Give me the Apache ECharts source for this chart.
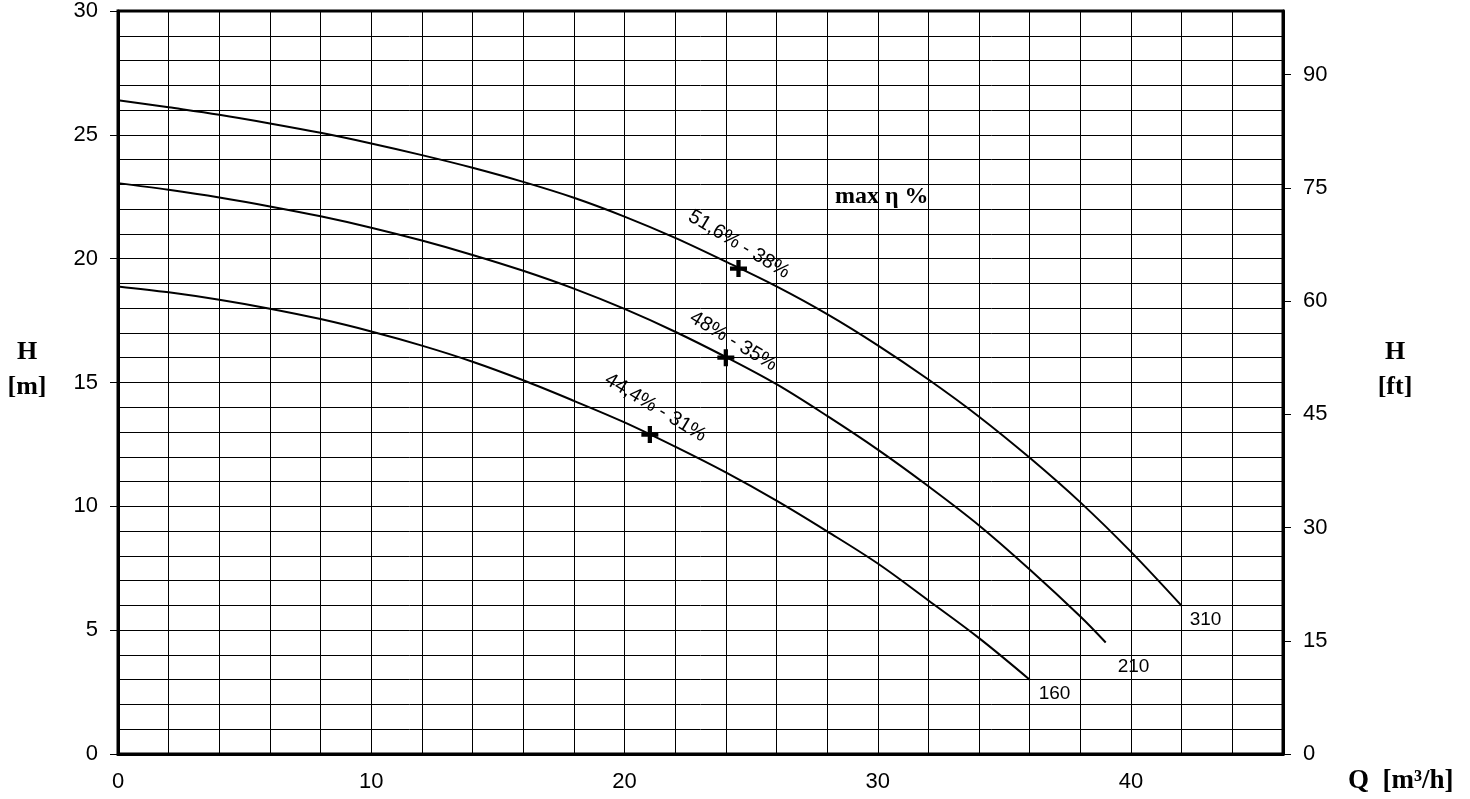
<!doctype html>
<html lang="en">
  <head>
    <meta charset="UTF-8" />
    <title>Pump curves</title>
    <script src="https://cdn.jsdelivr.net/npm/echarts@6/dist/echarts.min.js"></script>
    <style>
      html, body { margin: 0; padding: 0; background: #fff; }
      #chart { width: 1470px; height: 799px; }
    </style>
  </head>
  <body>
    <div id="chart"></div>
    <script>
      // Curve data, Q [m3/h] -> H [m]
      var curveNames = ['310', '210', '160'];
      var q310 = [0, 2, 4, 6, 8, 10, 12, 14, 16, 18, 20, 22, 24, 26, 28, 30, 32, 34, 36, 38, 40, 42];
      var h310 = [26.4, 26.11, 25.81, 25.46, 25.08, 24.65, 24.18, 23.67, 23.1, 22.46, 21.7, 20.84, 19.88, 18.88, 17.76, 16.5, 15.12, 13.62, 11.96, 10.16, 8.16, 5.98];
      var q210 = [0, 2, 4, 6, 8, 10, 12, 14, 16, 18, 20, 22, 24, 26, 28, 30, 32, 34, 36, 38, 39];
      var h210 = [23.05, 22.78, 22.47, 22.11, 21.71, 21.25, 20.73, 20.15, 19.51, 18.79, 17.97, 17.05, 16.03, 14.93, 13.65, 12.29, 10.81, 9.23, 7.45, 5.55, 4.5];
      var q160 = [0, 2, 4, 6, 8, 10, 12, 14, 16, 18, 20, 22, 24, 26, 28, 30, 32, 34, 36];
      var h160 = [18.88, 18.64, 18.34, 17.98, 17.56, 17.06, 16.49, 15.84, 15.09, 14.26, 13.39, 12.41, 11.37, 10.23, 8.99, 7.69, 6.2, 4.68, 3.0];

      // best efficiency points
      var bepQ = [24.5, 24, 21];
      var bepH = [19.6, 16.0, 12.9];
      var bepText = ['51,6% - 38%', '48% - 35%', '44,4% - 31%'];

      var M_TO_FT = 1 / 0.3048;
      var H_MAX = 30;

      var curves = [[q310, h310], [q210, h210], [q160, h160]];
      var tickFont = { fontFamily: 'Liberation Sans', fontSize: 22, color: '#000' };
      var titleFont = 'bold 26px "Liberation Serif"';

      function pairs(q, h) {
        return q.map(function (v, i) { return [v, h[i]]; });
      }

      var series = curves.map(function (c, i) {
        return {
          name: curveNames[i],
          type: 'line',
          data: pairs(c[0], c[1]),
          smooth: 0.35,
          symbol: 'none',
          lineStyle: { color: '#000', width: 2 },
          z: 3
        };
      });

      // end-of-curve labels
      var endOffsets = [[8, 14], [12, 24], [9, 14]];
      series.push({
        type: 'scatter',
        symbolSize: 0,
        itemStyle: { opacity: 1 },
        data: curves.map(function (c, i) {
          var n = c[0].length - 1;
          return {
            value: [c[0][n], c[1][n]],
            label: { formatter: curveNames[i], position: endOffsets[i] }
          };
        }),
        label: {
          show: true,
          align: 'left',
          verticalAlign: 'middle',
          fontFamily: 'Liberation Sans',
          fontSize: 19,
          color: '#000'
        },
        z: 4
      });

      // efficiency markers
      var bepOffsets = [[-12, -21], [-2, -18], [-9, -26]];
      series.push({
        type: 'scatter',
        symbol: 'path://M6,0h4v6h6v4h-6v6h-4v-6h-6v-4h6z',
        symbolSize: 17,
        itemStyle: { color: '#000', opacity: 1 },
        data: bepQ.map(function (q, i) {
          return {
            value: [q, bepH[i]],
            label: { formatter: bepText[i], offset: bepOffsets[i] }
          };
        }),
        label: {
          show: true,
          position: 'inside',
          rotate: -31,
          align: 'center',
          verticalAlign: 'middle',
          fontFamily: 'Liberation Sans',
          fontSize: 20,
          color: '#000'
        },
        z: 5
      });

      var chart = echarts.init(document.getElementById('chart'), null, { renderer: 'canvas' });

      chart.setOption({
        animation: false,
        backgroundColor: '#fff',
        grid: {
          left: 118, right: 187, top: 10, bottom: 45,
          show: true, borderColor: '#000', borderWidth: 3
        },
        xAxis: {
          type: 'value',
          min: 0, max: 46, interval: 2,
          axisLine: { lineStyle: { color: '#000', width: 3 } },
          axisTick: { show: false },
          axisLabel: Object.assign({
            margin: 17,
            formatter: function (v) { return v % 10 === 0 ? String(v) : ''; }
          }, tickFont),
          splitLine: { show: true, lineStyle: { color: '#000', width: 1 } }
        },
        yAxis: [
          {
            type: 'value',
            min: 0, max: H_MAX, interval: 5,
            axisLine: { show: true, lineStyle: { color: '#000', width: 3 } },
            axisTick: { show: true, inside: false, length: 8, lineStyle: { color: '#000', width: 1 } },
            axisLabel: Object.assign({ margin: 20 }, tickFont),
            splitLine: { show: true, lineStyle: { color: '#000', width: 1 } },
            minorTick: { show: false, splitNumber: 5 },
            minorSplitLine: { show: true, lineStyle: { color: '#000', width: 1 } }
          },
          {
            type: 'value',
            position: 'right',
            min: 0, max: H_MAX * M_TO_FT, interval: 15,
            axisLine: { show: true, lineStyle: { color: '#000', width: 3 } },
            axisTick: { show: true, inside: false, length: 8, lineStyle: { color: '#000', width: 1 } },
            axisLabel: Object.assign({ margin: 20, showMaxLabel: false }, tickFont),
            splitLine: { show: false }
          }
        ],
        graphic: [
          {
            type: 'text', x: 27, y: 370,
            style: { text: 'H\n[m]', font: titleFont, lineHeight: 35, align: 'center', verticalAlign: 'middle', fill: '#000' }
          },
          {
            type: 'text', x: 1395, y: 370,
            style: { text: 'H\n[ft]', font: titleFont, lineHeight: 35, align: 'center', verticalAlign: 'middle', fill: '#000' }
          },
          {
            type: 'text', x: 1348, y: 781,
            style: { text: 'Q  [m³/h]', font: 'bold 27px "Liberation Serif"', align: 'left', verticalAlign: 'middle', fill: '#000' }
          },
          {
            type: 'text', x: 835, y: 197,
            style: { text: 'max η %', font: 'bold 24px "Liberation Serif"', align: 'left', verticalAlign: 'middle', fill: '#000' }
          }
        ],
        series: series
      });
    </script>
  </body>
</html>
